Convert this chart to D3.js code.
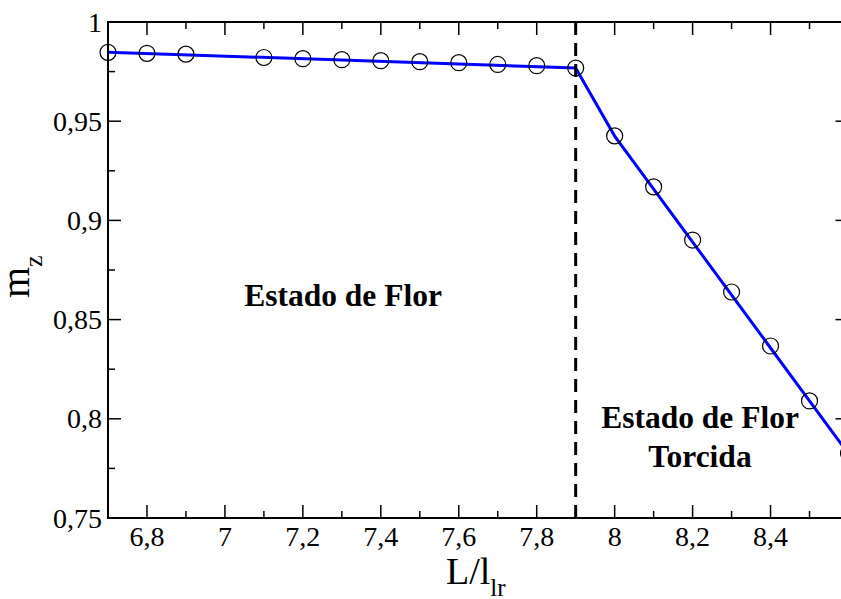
<!DOCTYPE html>
<html>
<head>
<meta charset="utf-8">
<script src="https://cdn.jsdelivr.net/npm/d3@7"></script>
<style>
  html, body { margin: 0; padding: 0; background: #fff; overflow: hidden; }
  svg { display: block; }
  text { font-family: "Liberation Serif", "Times New Roman", serif; fill: #000; }
</style>
</head>
<body>
<svg id="chart" width="841" height="599"></svg>
<script>
// ---- data ----
const xValues = [6.7, 6.8, 6.9, 7.1, 7.2, 7.3, 7.4, 7.5, 7.6, 7.7, 7.8, 7.9, 8.0, 8.1, 8.2, 8.3, 8.4, 8.5, 8.6];
const mzValues = [0.9847, 0.9842, 0.9838, 0.9821, 0.9815, 0.9810, 0.9805, 0.9800, 0.9795, 0.9786, 0.9780, 0.9768,
                  0.9426, 0.9169, 0.8901, 0.8639, 0.8367, 0.8090, 0.7826];
const fitX = [6.7, 7.9, 8.0, 8.6];
const fitY = [0.9848, 0.9768, 0.9425, 0.7823];
const transitionX = 7.9;
const xTickValues = [6.8, 7.0, 7.2, 7.4, 7.6, 7.8, 8.0, 8.2, 8.4];
const xTickLabels = ["6,8", "7", "7,2", "7,4", "7,6", "7,8", "8", "8,2", "8,4"];
const xMinorTicks = [6.7, 6.9, 7.1, 7.3, 7.5, 7.7, 7.9, 8.1, 8.3, 8.5];
const yTickValues = [0.75, 0.8, 0.85, 0.9, 0.95, 1.0];
const yTickLabels = ["0,75", "0,8", "0,85", "0,9", "0,95", "1"];
const yMinorTicks = [0.775, 0.825, 0.875, 0.925, 0.975];
const regionLabels = [
  { lines: ["Estado de Flor"], x: 7.303, y: 0.857 },
  { lines: ["Estado de Flor", "Torcida"], x: 8.219, y: 0.7954 }
];

// ---- layout ----
const svg = d3.select("#chart");
const L = 108, R = 848.5, T = 22, B = 518;
const x = d3.scaleLinear().domain([6.7, 8.6]).range([L, R]);
const y = d3.scaleLinear().domain([0.75, 1.0]).range([B, T]);

const majorLen = 13, minorLen = 7;
const g = svg.append("g");

// fit line
const line = d3.line().x(d => x(d[0])).y(d => y(d[1]));
g.append("path")
  .datum(fitX.map((v, i) => [v, fitY[i]]))
  .attr("d", line)
  .attr("fill", "none")
  .attr("stroke", "#0000ff")
  .attr("stroke-width", 3);

// dashed transition line
g.append("line")
  .attr("x1", x(transitionX)).attr("x2", x(transitionX))
  .attr("y1", T).attr("y2", B)
  .attr("stroke", "#000").attr("stroke-width", 3)
  .attr("stroke-dasharray", "13,8");

// markers
g.selectAll("circle.pt")
  .data(xValues.map((v, i) => [v, mzValues[i]]))
  .enter().append("circle")
  .attr("class", "pt")
  .attr("cx", d => x(d[0]))
  .attr("cy", d => y(d[1]))
  .attr("r", 8)
  .attr("fill", "none")
  .attr("stroke", "#000")
  .attr("stroke-width", 1.2);

// frame
g.append("rect")
  .attr("x", L).attr("y", T).attr("width", R - L).attr("height", B - T)
  .attr("fill", "none").attr("stroke", "#000").attr("stroke-width", 2);

// ticks
const tickG = g.append("g").attr("stroke", "#000").attr("stroke-width", 1.5);
function xTicks(vals, len) {
  vals.forEach(v => {
    tickG.append("line").attr("x1", x(v)).attr("x2", x(v)).attr("y1", B).attr("y2", B - len);
    tickG.append("line").attr("x1", x(v)).attr("x2", x(v)).attr("y1", T).attr("y2", T + len);
  });
}
function yTicks(vals, len) {
  vals.forEach(v => {
    tickG.append("line").attr("x1", L).attr("x2", L + len).attr("y1", y(v)).attr("y2", y(v));
    tickG.append("line").attr("x1", R).attr("x2", R - len).attr("y1", y(v)).attr("y2", y(v));
  });
}
xTicks(xTickValues, majorLen);
xTicks(xMinorTicks, minorLen);
yTicks(yTickValues, majorLen);
yTicks(yMinorTicks, minorLen);

// tick labels
g.selectAll("text.xt")
  .data(xTickValues)
  .enter().append("text")
  .attr("class", "xt")
  .attr("x", d => x(d))
  .attr("y", 546)
  .attr("text-anchor", "middle")
  .attr("font-size", 28)
  .text((d, i) => xTickLabels[i]);

g.selectAll("text.yt")
  .data(yTickValues)
  .enter().append("text")
  .attr("class", "yt")
  .attr("x", 102)
  .attr("y", d => y(d) + 9.5)
  .attr("text-anchor", "end")
  .attr("font-size", 28)
  .text((d, i) => yTickLabels[i]);

// axis titles
const xt = g.append("text").attr("x", 446).attr("y", 584).attr("font-size", 38);
xt.append("tspan").text("L/l");
xt.append("tspan").attr("font-size", 25).attr("dy", 12).text("lr");

const yt = g.append("text")
  .attr("transform", "translate(29,298) rotate(-90)")
  .attr("font-size", 40);
yt.append("tspan").text("m");
yt.append("tspan").attr("font-size", 26).attr("dy", 13).text("z");

// region labels
regionLabels.forEach(lab => {
  const t = g.append("text")
    .attr("x", x(lab.x))
    .attr("y", y(lab.y))
    .attr("text-anchor", "middle")
    .attr("font-size", 31.5)
    .attr("font-weight", "bold");
  lab.lines.forEach((s, i) => {
    t.append("tspan").attr("x", x(lab.x)).attr("dy", i === 0 ? 0 : 39).text(s);
  });
});
</script>
</body>
</html>
